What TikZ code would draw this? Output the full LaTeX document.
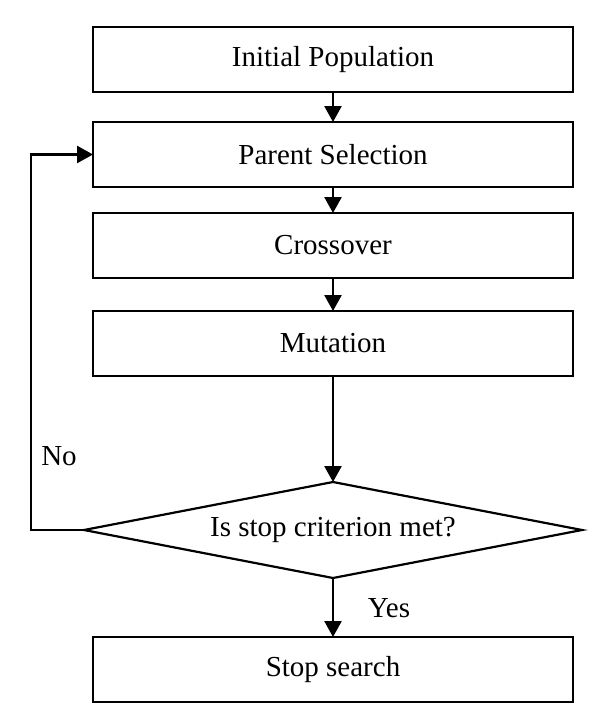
\documentclass[tikz,border=0pt]{standalone}
\usepackage{fontspec}
\setmainfont{Liberation Serif}
\usetikzlibrary{positioning,shapes.geometric,arrows.meta}

\begin{document}
\begin{tikzpicture}
        [
            x=1pt, y=1pt,
            font=\fontsize{29}{34}\selectfont,
            boxnode/.style={rectangle, draw=black, line width=2.8pt, minimum width=480pt, minimum height=65pt, inner sep=0pt, outer sep=0pt},
            decisionnode/.style={diamond, draw=black, line width=2.2pt, aspect=5.2, minimum width=498pt, minimum height=96pt, inner sep=0pt, outer sep=0pt},
            arrowline/.style={line width=2.6pt, -{Triangle[length=16pt,width=17pt]}},
        ]
        \useasboundingbox (0,0) rectangle (603,-715);

        %Nos
        \node[boxnode]       (populacao)                               at (333,-59.5) {Initial Population};
        \node[boxnode]       (selecao)      [below=30pt of populacao]  {Parent Selection};
        \node[boxnode]       (cruzamento)   [below=26pt of selecao]    {Crossover};
        \node[boxnode]       (mutacao)      [below=33pt of cruzamento] {Mutation};
        \node[decisionnode]  (decisao)      [below=106pt of mutacao]   {Is stop criterion met?};
        \node[boxnode]       (parar)        [below=59pt of decisao]    {Stop search};
        \coordinate          (canto)                                   at (31,-530);

        %Rotulos
        \node (nao) at (59,-456) {No};
        \node (sim) at (389,-608) {Yes};

        %Linhas
        \draw[arrowline] (populacao) -- (selecao);
        \draw[arrowline] (selecao) -- (cruzamento);
        \draw[arrowline] (cruzamento) -- (mutacao);
        \draw[arrowline] (mutacao) -- (decisao);
        \draw[arrowline] (decisao) -- (parar);
        \draw[arrowline] (decisao.west) -- (canto) |- (selecao.west);
    \end{tikzpicture}
\end{document}
